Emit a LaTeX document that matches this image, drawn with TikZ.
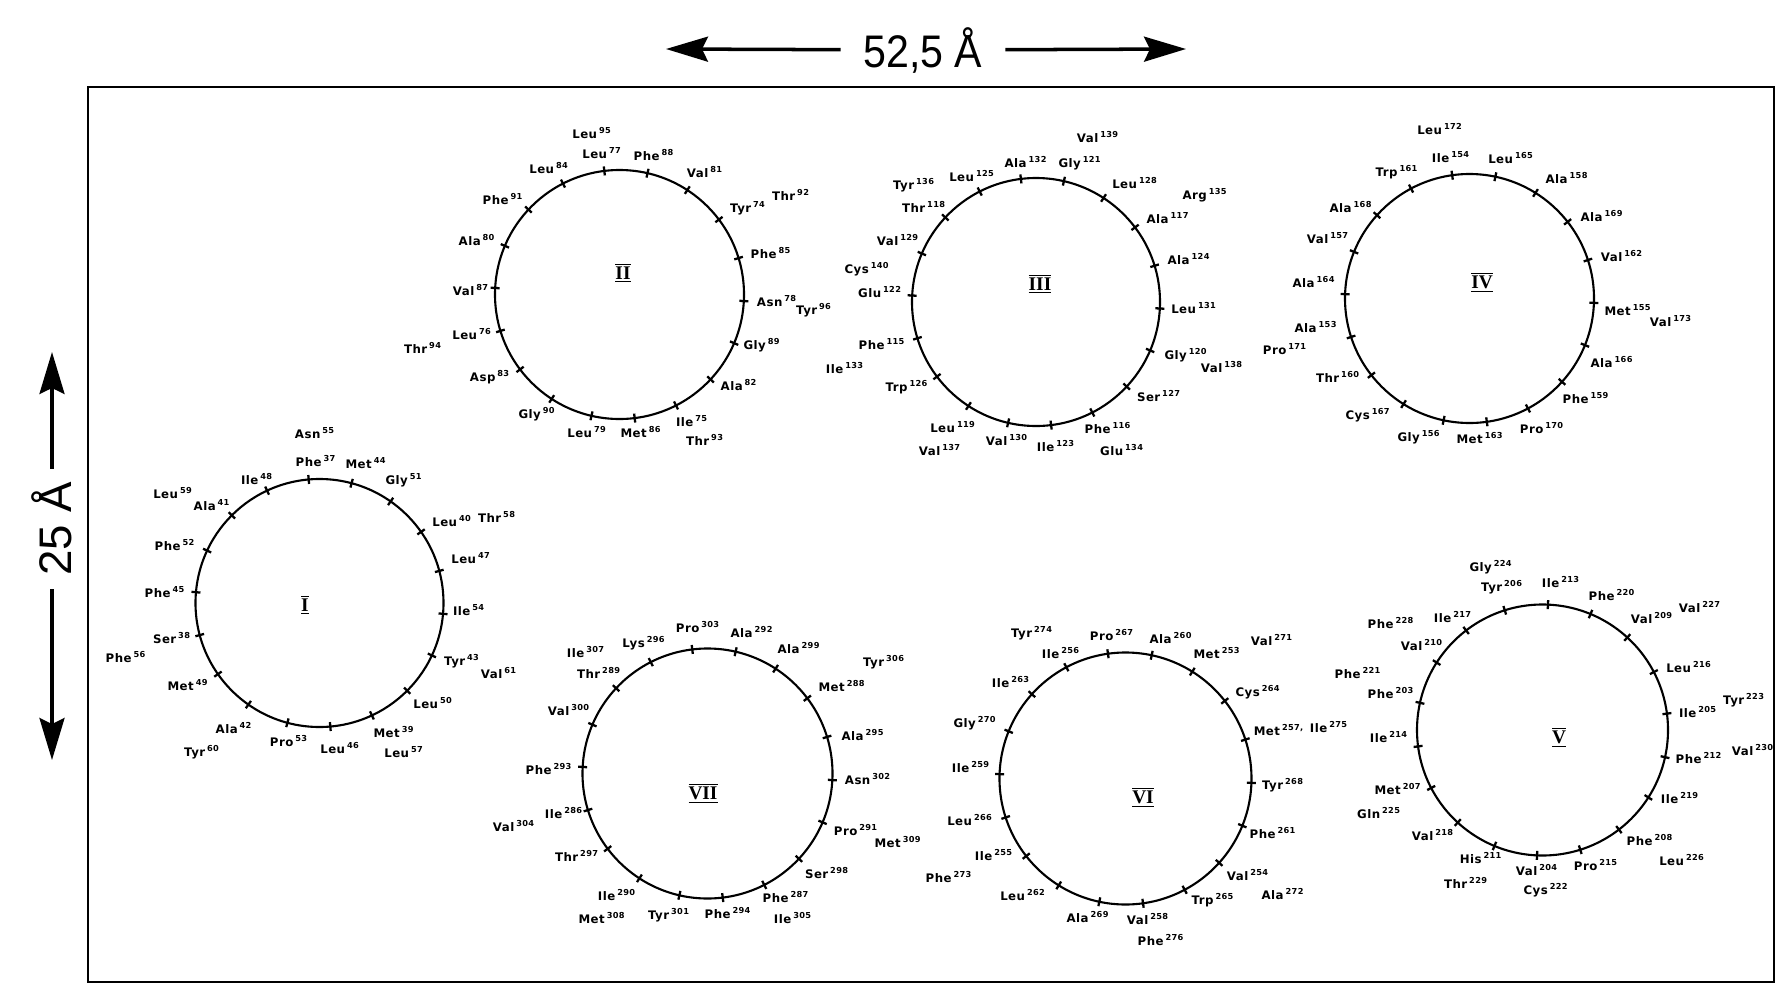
\documentclass[tikz,border=0pt]{standalone}
\usepackage{fontspec}
\setmainfont{Liberation Sans}
\newfontfamily\resfont{DejaVu Sans}[LetterSpace=4]
\newfontfamily\numfont{Liberation Serif}
\usetikzlibrary{arrows.meta,calc}
\tikzstyle{wheel} = [line width=1.2pt]
\tikzstyle{tickmark} = [line width=1.3pt]
\tikzstyle{frame} = [line width=1.6pt]
\tikzstyle{res} = [inner sep=0pt, font=\resfont\bfseries\fontsize{6.7}{7}\selectfont]
\tikzstyle{helixno} = [inner sep=0pt, font=\numfont\bfseries\fontsize{11}{13}\selectfont]
\tikzstyle{dimlabel} = [inner ysep=0pt, font=\fontsize{26}{30}\selectfont]
\tikzstyle{dimarrow} = [line width=2pt, -{Stealth[length=0.84cm,width=0.5cm,inset=0.12cm]}]
\newcommand{\rs}[2]{#1\,\textsuperscript{#2}}
\newcommand{\hno}[1]{$\overline{\underline{\hbox{#1}}}$}

\begin{document}
\begin{tikzpicture}[x=0.02cm, y=-0.02cm]
        \useasboundingbox (0,0) rectangle (1775,984);
        \draw[frame] (88,87) rectangle (1774,982);

        \node (hlen) [dimlabel, inner xsep=0.45cm] at (923,50) {\scalebox{0.9}[1]{52,5 Å}};
        \coordinate (hl) at (666,49);
        \coordinate (hr) at (1186,49);
        \draw [dimarrow] (hlen) -- (hl);
        \draw [dimarrow] (hlen) -- (hr);
        \node (vlen) [dimlabel, inner xsep=0.26cm, rotate=90] at (52,529) {25 Å};
        \coordinate (vt) at (52,352);
        \coordinate (vb) at (52,760);
        \draw [dimarrow] (vlen) -- (vt);
        \draw [dimarrow] (vlen) -- (vb);

        \foreach \w/\cx/\cy/\rad/\ang in {I/319.5/603/124/95, II/619.5/294.5/124.5/97, III/1036/302/124/97, IV/1469.5/298.5/124.5/98, V/1542.5/730/125.5/87.5, VI/1125.5/778.5/126/98, VII/707.5/773.5/125/97} {
            \coordinate (c\w) at (\cx,\cy);
            \draw [wheel] (c\w) circle [radius=\rad];
            \foreach \k in {0,...,17}
                \draw [tickmark] ($(c\w)+(20*\k-\ang:\rad-4.5)$) -- ($(c\w)+(20*\k-\ang:\rad+4.5)$);
        }

        \node (hI) [helixno] at (305,605) {\hno{I}};
        \node (hII) [helixno] at (623,273) {\hno{II}};
        \node (hIII) [helixno] at (1040,284) {\hno{III}};
        \node (hIV) [helixno] at (1482,282) {\hno{IV}};
        \node (hV) [helixno] at (1559,737) {\hno{V}};
        \node (hVI) [helixno] at (1143,797) {\hno{VI}};
        \node (hVII) [helixno] at (703,793) {\hno{VII}};

        \foreach \x/\y/\a/\n in {315/433/Asn/55, 316/461/Phe/37, 366/463/Met/44, 404/480/Gly/51, 257/479/Ile/48, 173/493/Leu/59, 212/505/Ala/41, 452/521/Leu/40, 497/517/Thr/58, 175/545/Phe/52, 471/558/Leu/47, 165/592/Phe/45, 469/610/Ile/54, 172/638/Ser/38, 126/657/Phe/56, 462/661/Tyr/43, 499/673/Val/61, 188/685/Met/49, 433/703/Leu/50, 234/728/Ala/42, 289/741/Pro/53, 340/748/Leu/46, 394/732/Met/39, 404/752/Leu/57, 202/752/Tyr/60}
            \node (r\n) [res] at (\x,\y) {\rs{\a}{\n}};

        \foreach \x/\y/\a/\n in {592/133/Leu/95, 602/153/Leu/77, 654/155/Phe/88, 549/168/Leu/84, 705/172/Val/81, 503/199/Phe/91, 748/208/Tyr/74, 791/195/Thr/92, 477/240/Ala/80, 771/253/Phe/85, 471/290/Val/87, 777/301/Asn/78, 814/310/Tyr/96, 472/334/Leu/76, 423/348/Thr/94, 762/345/Gly/89, 490/377/Asp/83, 739/385/Ala/82, 537/414/Gly/90, 692/421/Ile/75, 587/432/Leu/79, 641/432/Met/86, 705/440/Thr/93}
            \node (r\n) [res] at (\x,\y) {\rs{\a}{\n}};

        \foreach \x/\y/\a/\n in {1098/137/Val/139, 1026/162/Ala/132, 1080/163/Gly/121, 972/176/Leu/125, 914/185/Tyr/136, 1135/183/Leu/128, 1205/195/Arg/135, 924/207/Thr/118, 1168/218/Ala/117, 898/240/Val/129, 867/269/Cys/140, 1189/259/Ala/124, 880/292/Glu/122, 1194/308/Leu/131, 882/344/Phe/115, 845/368/Ile/133, 1186/355/Gly/120, 1222/367/Val/138, 907/387/Trp/126, 1159/396/Ser/127, 953/427/Leu/119, 1007/440/Val/130, 1056/446/Ile/123, 1108/428/Phe/116, 940/450/Val/137, 1122/450/Glu/134}
            \node (r\n) [res] at (\x,\y) {\rs{\a}{\n}};

        \foreach \x/\y/\a/\n in {1440/129/Leu/172, 1451/157/Ile/154, 1397/172/Trp/161, 1511/158/Leu/165, 1567/178/Ala/158, 1351/207/Ala/168, 1602/216/Ala/169, 1328/238/Val/157, 1622/256/Val/162, 1314/282/Ala/164, 1628/310/Met/155, 1671/321/Val/173, 1316/327/Ala/153, 1285/349/Pro/171, 1612/362/Ala/166, 1338/377/Thr/160, 1586/398/Phe/159, 1368/415/Cys/167, 1542/428/Pro/170, 1419/437/Gly/156, 1480/438/Met/163}
            \node (r\n) [res] at (\x,\y) {\rs{\a}{\n}};

        \foreach \x/\y/\a/\n in {1491/567/Gly/224, 1502/587/Tyr/206, 1561/582/Ile/213, 1612/595/Phe/220, 1453/617/Ile/217, 1391/623/Phe/228, 1652/618/Val/209, 1700/607/Val/227, 1422/645/Val/210, 1689/667/Leu/216, 1358/673/Phe/221, 1391/693/Phe/203, 1698/712/Ile/205, 1744/700/Tyr/223, 1389/737/Ile/214, 1699/758/Phe/212, 1753/750/Val/230, 1680/798/Ile/219, 1398/789/Met/207, 1379/813/Gln/225, 1433/835/Val/218, 1650/840/Phe/208, 1682/860/Leu/226, 1481/858/His/211, 1537/870/Val/204, 1596/865/Pro/215, 1466/883/Thr/229, 1546/890/Cys/222}
            \node (r\n) [res] at (\x,\y) {\rs{\a}{\n}};

        \foreach \x/\y/\a/\n in {1032/633/Tyr/274, 1112/635/Pro/267, 1171/638/Ala/260, 1061/653/Ile/256, 1217/653/Met/253, 1272/640/Val/271, 1011/682/Ile/263, 1258/692/Cys/264, 975/723/Gly/270, 1329/727/Ile/275, 971/767/Ile/259, 1283/785/Tyr/268, 970/820/Leu/266, 1273/833/Phe/261, 994/855/Ile/255, 949/877/Phe/273, 1248/875/Val/254, 1023/895/Leu/262, 1283/894/Ala/272, 1213/900/Trp/265, 1088/917/Ala/269, 1148/919/Val/258, 1161/940/Phe/276}
            \node (r\n) [res] at (\x,\y) {\rs{\a}{\n}};
        \node (r257) [res] at (1279,730) {\rs{Met}{257,}};

        \foreach \x/\y/\a/\n in {698/627/Pro/303, 752/632/Ala/292, 644/643/Lys/296, 586/652/Ile/307, 799/648/Ala/299, 884/662/Tyr/306, 599/673/Thr/289, 842/686/Met/288, 569/710/Val/300, 863/735/Ala/295, 549/769/Phe/293, 868/779/Asn/302, 564/813/Ile/286, 514/826/Val/304, 856/830/Pro/291, 898/842/Met/309, 577/856/Thr/297, 827/873/Ser/298, 617/895/Ile/290, 786/897/Phe/287, 602/918/Met/308, 669/915/Tyr/301, 728/913/Phe/294, 793/918/Ile/305}
            \node (r\n) [res] at (\x,\y) {\rs{\a}{\n}};
\end{tikzpicture}
\end{document}
